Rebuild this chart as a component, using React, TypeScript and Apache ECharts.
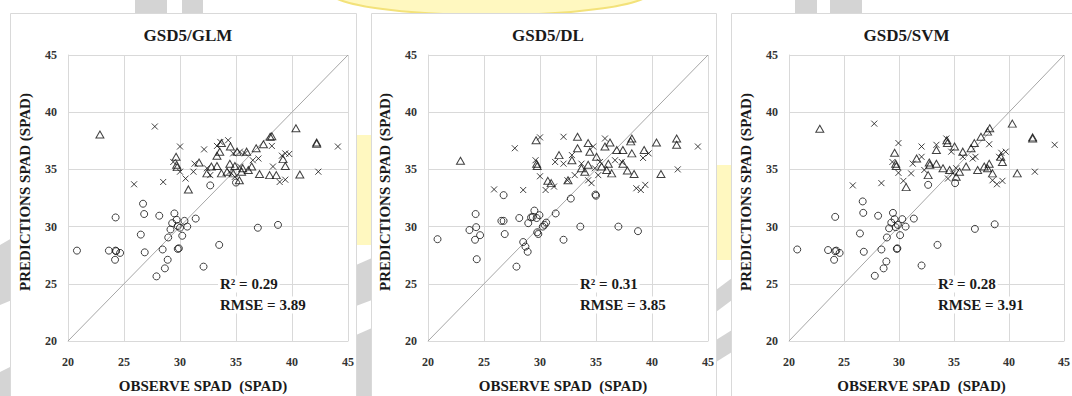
import React, { useEffect, useRef } from "react";
import * as echarts from "echarts";

// ---- data: [observed, predicted] ----
const glmCircles = [[20.8,27.9],[23.65,27.9],[24.25,27.9],[24.3,27.85],[24.65,27.7],[24.2,27.1],[24.25,30.8],[26.7,32.0],[26.8,31.1],[26.5,29.3],[26.85,27.75],[28.15,30.95],[27.9,25.65],[28.45,28.0],[28.65,26.35],[28.9,27.1],[28.95,29.05],[29.15,29.75],[29.3,30.3],[29.5,31.15],[29.7,30.6],[29.8,30.05],[30.0,29.9],[29.8,28.05],[29.9,28.1],[30.2,29.2],[30.4,30.5],[30.65,30.0],[31.4,30.7],[32.1,26.5],[33.5,28.4],[36.95,29.9],[38.75,30.15],[32.7,33.6],[35.0,33.85]];
const glmTriangles = [[22.85,38.05],[29.65,36.1],[29.7,35.4],[29.75,35.2],[30.75,33.25],[31.7,35.6],[32.8,35.25],[33.3,36.2],[33.55,36.55],[33.7,37.3],[34.45,35.5],[34.5,37.0],[35.1,36.55],[35.95,36.55],[36.8,36.85],[37.45,37.2],[38.05,37.85],[38.2,37.9],[40.35,38.6],[42.2,37.35],[42.2,37.25],[40.7,34.55],[39.4,35.3],[39.2,35.9],[38.0,34.5],[37.1,34.6],[36.4,35.25],[36.1,34.95],[35.5,34.8],[35.3,34.05],[34.75,34.65],[34.2,34.8],[33.7,34.65],[33.3,35.3],[32.4,34.65],[38.6,34.5],[34.9,35.3],[35.6,35.1]];
const glmCrosses = [[27.75,38.75],[30.0,37.0],[32.15,36.75],[25.9,33.7],[28.5,33.9],[29.4,35.65],[30.0,34.8],[30.5,34.2],[31.2,34.8],[31.3,35.5],[32.4,35.1],[32.7,34.5],[33.6,37.4],[34.3,37.55],[34.75,36.4],[35.35,35.25],[35.8,36.4],[36.5,35.8],[37.0,35.95],[38.2,37.05],[38.9,33.9],[39.4,34.1],[39.1,36.2],[39.4,36.4],[39.75,36.35],[42.35,34.8],[44.1,37.0],[35.35,36.55],[33.3,37.05],[34.45,34.8],[34.9,34.35],[38.3,35.25]];

const dlCircles = [[20.85,28.9],[23.7,29.7],[24.3,29.95],[24.25,31.1],[24.2,28.85],[24.65,29.25],[24.35,27.15],[26.55,30.5],[26.75,30.5],[26.75,32.75],[26.85,29.35],[28.15,30.75],[27.9,26.5],[28.5,28.65],[28.7,28.25],[28.9,27.8],[28.95,30.3],[29.2,30.8],[29.35,30.85],[29.5,31.4],[29.7,30.75],[29.75,29.5],[29.85,29.35],[29.95,31.0],[30.25,30.0],[30.4,30.15],[30.55,30.35],[31.4,31.15],[32.1,28.85],[32.75,32.45],[33.6,30.0],[35.0,32.7],[34.95,32.8],[37.0,30.0],[38.75,29.6]];
const dlTriangles = [[22.9,35.75],[29.65,37.55],[29.7,35.5],[29.75,35.3],[30.7,34.0],[31.0,33.8],[31.7,36.25],[32.85,35.8],[33.35,36.85],[33.35,37.85],[34.3,37.3],[34.45,36.55],[34.3,35.4],[33.7,35.1],[34.0,34.8],[35.05,36.1],[35.8,37.0],[36.25,37.35],[36.85,36.7],[37.4,36.7],[38.2,37.7],[38.1,37.45],[38.2,36.4],[37.8,34.9],[38.4,34.6],[37.4,35.5],[39.3,36.7],[40.4,37.35],[40.8,34.6],[42.2,37.7],[42.2,37.15],[35.5,35.25],[36.1,35.5],[36.4,34.65],[35.95,34.95],[32.5,34.05]];
const dlCrosses = [[27.75,36.85],[30.0,37.8],[32.1,37.85],[25.9,33.25],[28.5,33.2],[30.5,33.2],[30.0,34.4],[29.6,35.8],[31.25,33.5],[31.35,35.65],[32.1,35.5],[32.45,34.05],[33.1,34.5],[33.7,35.5],[34.3,34.05],[34.9,35.1],[35.2,34.5],[35.8,37.7],[36.7,35.8],[37.3,35.65],[38.6,33.35],[39.0,33.2],[39.4,33.65],[39.7,36.4],[39.2,36.0],[42.3,35.0],[44.1,37.0],[34.75,37.0],[35.35,35.65],[34.6,33.8],[32.85,36.25]];

const svmCircles = [[20.75,28.0],[23.55,27.95],[24.2,27.85],[24.3,27.9],[24.6,27.7],[24.1,27.1],[24.2,30.85],[26.7,32.2],[26.75,31.2],[26.45,29.4],[26.8,27.8],[28.1,30.95],[27.8,25.7],[28.4,28.0],[28.6,26.35],[28.85,26.95],[28.9,29.05],[29.1,29.85],[29.3,30.35],[29.45,31.2],[29.6,30.65],[29.7,29.95],[29.9,30.15],[29.8,28.05],[29.85,28.1],[30.1,29.25],[30.3,30.65],[30.6,30.0],[31.35,30.7],[32.05,26.6],[33.5,28.4],[36.9,29.8],[38.7,30.2],[32.65,33.65],[35.1,33.8]];
const svmTriangles = [[22.8,38.55],[29.6,36.45],[29.7,35.5],[29.75,35.3],[30.65,33.45],[31.6,35.95],[32.75,35.6],[33.4,36.7],[34.35,37.55],[34.4,37.3],[35.05,37.0],[35.8,36.55],[36.55,36.85],[36.85,37.3],[37.45,37.85],[38.05,38.3],[38.25,38.6],[40.3,39.0],[42.15,37.7],[42.15,37.8],[40.75,34.65],[39.4,35.65],[39.25,36.1],[38.05,35.1],[38.2,35.5],[37.15,34.95],[36.1,35.25],[35.5,34.8],[35.2,34.35],[34.6,34.95],[34.0,35.1],[33.4,35.5],[32.8,35.4],[32.65,34.5],[38.5,34.65],[37.75,35.25]];
const svmCrosses = [[27.75,39.0],[29.95,37.3],[32.05,37.0],[25.8,33.6],[28.4,33.8],[29.4,35.65],[29.95,34.7],[30.4,34.0],[31.1,34.65],[31.25,35.5],[32.3,34.95],[33.4,37.15],[34.3,37.7],[34.75,36.55],[35.2,35.1],[35.8,36.1],[36.7,35.95],[36.95,36.1],[38.2,37.2],[38.9,33.7],[39.4,34.0],[39.1,36.1],[39.3,36.45],[39.7,36.55],[42.35,34.8],[44.15,37.15],[34.45,34.2],[34.9,34.65],[32.05,36.1],[38.5,34.05]];

const panelTitles = ["GSD5/GLM", "GSD5/DL", "GSD5/SVM"];
const r2Values = ["0.29", "0.31", "0.28"];
const rmseValues = ["3.89", "3.85", "3.91"];
const axisTicks = [20, 25, 30, 35, 40, 45];
const oneToOne = [[20, 20], [45, 45]];

const FONT = "'Liberation Serif', 'Times New Roman', serif";
const GRIDC = "#d9d9d9";
const WM_GRAY = "#d4d4d4";
const WM_YELLOW = "#fff8c0";

export default function App() {
  const ref = useRef<HTMLDivElement>(null);
  useEffect(() => {
    document.body.style.margin = "0";
    document.body.style.overflow = "hidden";
    const chart = echarts.init(ref.current!, null, { renderer: "svg" });

    const layout = [
      { gridLeft: 68, gridW: 280, boxL: 10, boxR: 356, statX: 220 },
      { gridLeft: 428, gridW: 280, boxL: 371, boxR: 716, statX: 580 },
      { gridLeft: 789, gridW: 275, boxL: 731, boxR: 1100, statX: 938 },
    ];
    const gridTop = 55, gridH = 286;
    const sets = [
      [glmCircles, glmTriangles, glmCrosses],
      [dlCircles, dlTriangles, dlCrosses],
      [svmCircles, svmTriangles, svmCrosses],
    ];

    const grid: any[] = [], xAxis: any[] = [], yAxis: any[] = [], series: any[] = [];
    // faint background watermark (visible only around the panels)
    const graphic: any[] = [
      { type: "ellipse", z: -20, silent: true, shape: { cx: 490, cy: -8, rx: 160, ry: 23 }, style: { fill: WM_YELLOW, stroke: "#f3e27a", lineWidth: 2 } },
      { type: "rect", z: -20, silent: true, shape: { x: 135, y: 0, width: 32, height: 14 }, style: { fill: WM_GRAY } },
      { type: "rect", z: -20, silent: true, shape: { x: 182, y: 0, width: 21, height: 14 }, style: { fill: WM_GRAY } },
      { type: "rect", z: -20, silent: true, shape: { x: 795, y: 0, width: 22, height: 14 }, style: { fill: WM_GRAY } },
      { type: "rect", z: -20, silent: true, shape: { x: 830, y: 0, width: 32, height: 14 }, style: { fill: WM_GRAY } },
      { type: "polygon", z: -20, silent: true, shape: { points: [[0, 245], [12, 238], [12, 300], [0, 305]] }, style: { fill: WM_GRAY } },
      { type: "polygon", z: -20, silent: true, shape: { points: [[0, 372], [12, 366], [12, 396], [0, 396]] }, style: { fill: WM_GRAY } },
      { type: "rect", z: -20, silent: true, shape: { x: 356, y: 135, width: 15, height: 110 }, style: { fill: WM_YELLOW } },
      { type: "polygon", z: -20, silent: true, shape: { points: [[356, 265], [372, 258], [372, 300], [356, 306]] }, style: { fill: WM_GRAY } },
      { type: "polygon", z: -20, silent: true, shape: { points: [[356, 335], [372, 328], [372, 396], [356, 396]] }, style: { fill: WM_GRAY } },
      { type: "rect", z: -20, silent: true, shape: { x: 716, y: 165, width: 15, height: 95 }, style: { fill: WM_YELLOW } },
      { type: "polygon", z: -20, silent: true, shape: { points: [[716, 290], [732, 278], [732, 300], [716, 312]] }, style: { fill: WM_GRAY } },
      { type: "polygon", z: -20, silent: true, shape: { points: [[716, 340], [732, 330], [732, 352], [716, 362]] }, style: { fill: WM_GRAY } },
    ];
    const tickMin = axisTicks[0], tickMax = axisTicks[axisTicks.length - 1];
    const interval = axisTicks[1] - axisTicks[0];
    const markerStyle = { color: "rgba(0,0,0,0)", borderColor: "#111", borderWidth: 1 };
    const statStyle = { fontFamily: FONT, fontWeight: "bold", fontSize: 15, fill: "#1a1a1a", align: "left", verticalAlign: "middle", backgroundColor: "#fff", padding: [1, 2, 1, 2] };

    layout.forEach((p, i) => {
      grid.push({ left: p.gridLeft, top: gridTop, width: p.gridW, height: gridH, containLabel: false, outerBoundsMode: "none" });
      const axisCommon = {
        type: "value", gridIndex: i, min: tickMin, max: tickMax, interval,
        axisLine: { show: true, lineStyle: { color: GRIDC, width: 1 } },
        axisTick: { show: false },
        splitLine: { show: true, lineStyle: { color: GRIDC, width: 1 } },
        nameLocation: "middle",
        nameTextStyle: { fontFamily: FONT, fontWeight: "bold", fontSize: 15, color: "#1a1a1a" },
      };
      xAxis.push({
        ...axisCommon,
        name: "OBSERVE SPAD  (SPAD)", nameGap: 37,
        nameTextStyle: { ...axisCommon.nameTextStyle, padding: [0, 10, 0, 0] },
        axisLabel: {
          margin: 15, fontFamily: FONT, fontWeight: "bold", fontSize: 12, color: "#333",
          showMinLabel: true, showMaxLabel: true,
        },
      });
      yAxis.push({
        ...axisCommon,
        name: "PREDICTIONS SPAD (SPAD)", nameGap: 36,
        nameTextStyle: { ...axisCommon.nameTextStyle, padding: [0, 0, 0, 12] },
        axisLabel: { margin: 11, fontFamily: FONT, fontWeight: "bold", fontSize: 12, color: "#333" },
      });
      series.push({
        type: "line", xAxisIndex: i, yAxisIndex: i, data: oneToOne, symbol: "none",
        lineStyle: { color: "#a6a6a6", width: 1 }, silent: true, z: 1,
      });
      const [c, t, x] = sets[i];
      series.push({ type: "scatter", xAxisIndex: i, yAxisIndex: i, data: c, symbol: "circle", symbolSize: 7, itemStyle: markerStyle });
      series.push({ type: "scatter", xAxisIndex: i, yAxisIndex: i, data: t, symbol: "triangle", symbolSize: [8, 7], itemStyle: markerStyle });
      series.push({ type: "scatter", xAxisIndex: i, yAxisIndex: i, data: x, symbol: "path://M0,0L10,10M10,0L0,10", symbolSize: 6, itemStyle: markerStyle });

      graphic.push({
        type: "rect", z: -10, silent: true,
        shape: { x: p.boxL + 0.5, y: 13.5, width: p.boxR - p.boxL, height: 420 },
        style: { fill: "#fff", stroke: GRIDC, lineWidth: 1 },
      });
      graphic.push({
        type: "text", x: p.gridLeft + p.gridW / 2 - 20, y: 35,
        style: { text: panelTitles[i], fontFamily: FONT, fontWeight: "bold", fontSize: 17, fill: "#1a1a1a", align: "center", verticalAlign: "middle" },
      });
      graphic.push({ type: "text", z: 10, x: p.statX - 2, y: 284, style: { ...statStyle, text: "R² = " + r2Values[i] } });
      graphic.push({ type: "text", z: 10, x: p.statX - 2, y: 305, style: { ...statStyle, text: "RMSE = " + rmseValues[i] } });
    });

    chart.setOption({
      animation: false,
      backgroundColor: "#ffffff",
      grid, xAxis, yAxis, series, graphic,
    });
    return () => chart.dispose();
  }, []);
  return <div ref={ref} style={{ width: 1072, height: 396 }} />;
}
